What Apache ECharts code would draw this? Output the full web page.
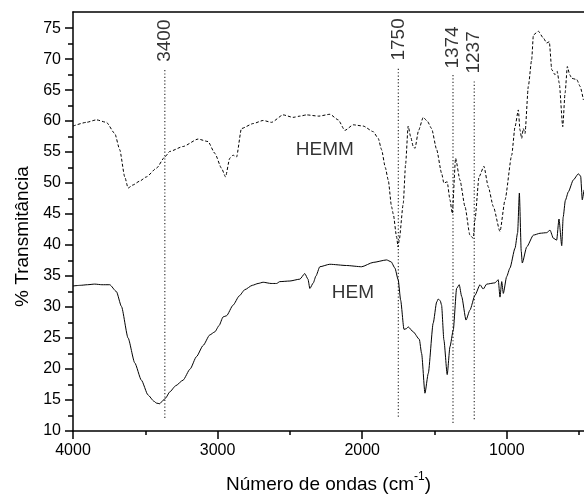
<!DOCTYPE html>
<html>
<head>
<meta charset="utf-8">
<script src="https://cdn.jsdelivr.net/npm/echarts@6/dist/echarts.min.js"></script>
<style>
html,body{margin:0;padding:0;background:#fff;}
#chart{width:584px;height:499px;}
</style>
</head>
<body>
<div id="chart"></div>
<script>
// ---- Data ----
const hemWavenumber = [4000,3950,3900,3850,3800,3746,3700,3665,3619,3573,3527,3481,3440,3423,3400,3388,3360,3331,3290,3239,3190,3146,3100,3054,3019,2990,2962,2938,2893,2850,2812,2760,2720,2685,2630,2592,2570,2500,2431,2397,2375,2362,2338,2320,2293,2224,2108,2004,1924,1831,1800,1774,1751,1734,1711,1695,1682,1647,1605,1589,1566,1543,1509,1485,1474,1460,1451,1435,1412,1393,1370,1347,1329,1312,1282,1255,1220,1185,1163,1139,1082,1059,1047,1035,1024,1001,978,943,925,913,900,893,862,816,770,724,701,678,655,639,620,610,595,574,540,505,489,478,466];
const hemTransmittance = [33.4,33.5,33.6,33.7,33.6,33.6,32.5,30.1,25.0,21.0,18.2,15.8,14.8,14.5,14.4,14.7,15.3,16.3,17.3,18.2,20.0,22.0,23.8,25.5,26.0,27.0,28.4,28.6,30.3,31.8,32.8,33.5,33.8,34.0,33.8,33.8,34.1,34.2,34.5,35.4,34.5,33.0,33.9,35.0,36.5,36.9,36.7,36.5,37.2,37.6,37.3,36.3,34.4,31.1,26.4,26.5,26.8,26.0,24.8,22.5,16.1,19.3,27.4,30.8,31.3,31.0,30.3,24.7,19.1,23.6,26.3,33.0,33.6,31.7,27.9,29.5,31.9,33.6,32.9,33.7,33.9,34.4,31.6,34.1,32.2,34.9,36.3,39.5,42.0,48.4,39.0,37.1,39.7,41.6,41.9,42.0,42.4,41.1,40.8,44.2,39.9,44.5,47.2,48.6,50.5,51.5,51.1,47.3,48.9];

const hemmWavenumber = [4000,3907,3838,3769,3711,3677,3642,3619,3585,3540,3492,3423,3365,3331,3239,3135,3066,3019,2973,2945,2916,2893,2869,2835,2754,2685,2627,2547,2478,2431,2385,2300,2223,2166,2120,2062,1993,1924,1889,1866,1840,1820,1797,1785,1762,1752,1744,1716,1700,1682,1665,1647,1635,1610,1578,1550,1520,1485,1451,1435,1412,1393,1377,1354,1324,1289,1255,1232,1220,1192,1158,1128,1093,1047,1012,966,943,920,909,897,886,874,851,828,816,782,747,724,706,689,667,651,637,613,597,581,565,551,516,493,470];
const hemmTransmittance = [59.2,59.8,60.2,59.8,58.0,55.4,51.0,49.2,49.7,50.3,51.0,52.4,54.2,55.1,55.9,57.1,56.7,54.8,52.4,51.0,54.0,54.5,54.2,58.8,59.6,60.1,59.8,61.0,60.6,60.8,61.0,60.8,61.1,60.2,58.5,59.4,59.2,58.3,57.2,55.4,52.5,50.5,46.2,45.0,41.3,39.7,40.8,46.7,53.0,59.2,57.5,55.9,55.6,58.5,60.6,60.0,58.8,55.4,51.6,50.0,50.2,47.3,45.1,54.0,50.5,46.2,41.6,41.1,44.1,51.0,52.7,49.4,46.2,42.2,47.3,54.5,59.1,61.8,58.6,57.2,58.8,58.0,65.6,69.9,73.9,74.5,73.4,72.6,72.8,68.3,67.5,68.0,66.1,59.1,64.5,68.8,67.5,66.9,66.7,65.6,63.4];

const markWavenumber = [3365, 1750, 1372, 1225];
const markLabels = ['3400', '1750', '1374', '1237'];
const markBottom = [12.1, 12.3, 11.3, 11.9];
const markTop = [68.6, 68.8, 67.5, 66.7];

const seriesNames = ['HEMM', 'HEM'];
const seriesNameX = [2459, 2210];
const seriesNameY = [55.4, 32.3];

const xMajorTicks = [1000, 2000, 3000, 4000];
const xMinorTicks = [500, 1500, 2500, 3500];
const yMajorTicks = [10, 15, 20, 25, 30, 35, 40, 45, 50, 55, 60, 65, 70, 75];
const yMinorTicks = [12.5, 17.5, 22.5, 27.5, 32.5, 37.5, 42.5, 47.5, 52.5, 57.5, 62.5, 67.5, 72.5];

// ---- Chart ----
const FONT = "'Liberation Sans', Arial, sans-serif";
const chart = echarts.init(document.getElementById('chart'), null, {renderer: 'canvas'});

const zip = (a, b) => a.map((v, i) => [v, b[i]]);

const series = [
  {
    type: 'line', name: 'HEM', data: zip(hemWavenumber, hemTransmittance),
    showSymbol: false, symbol: 'none', smooth: 0.2, smoothMonotone: 'x',
    lineStyle: {color: '#000', width: 1}, silent: true, z: 3
  },
  {
    type: 'line', name: 'HEMM', data: zip(hemmWavenumber, hemmTransmittance),
    showSymbol: false, symbol: 'none', smooth: 0.2, smoothMonotone: 'x',
    lineStyle: {color: '#000', width: 1, type: [3, 2]}, silent: true, z: 3
  }
];

markWavenumber.forEach((w, i) => {
  series.push({
    type: 'line', data: [[w, markBottom[i]], [w, markTop[i]]],
    showSymbol: false, symbol: 'none', silent: true,
    lineStyle: {color: '#333', width: 1.2, type: [1.2, 2.2]}, z: 2
  });
});

series.push({
  type: 'scatter', symbolSize: 0, silent: true,
  data: markWavenumber.map((w, i) => [w, markTop[i]]),
  label: {
    show: true, position: 'top', distance: 6, rotate: 90,
    align: 'left', verticalAlign: 'middle',
    formatter: p => markLabels[p.dataIndex],
    fontFamily: FONT, fontSize: 19, color: '#000'
  }
});

series.push({
  type: 'scatter', symbolSize: 0, silent: true,
  data: seriesNameX.map((w, i) => [w, seriesNameY[i]]),
  label: {
    show: true, position: 'right', distance: 0,
    align: 'left', verticalAlign: 'middle',
    formatter: p => seriesNames[p.dataIndex],
    fontFamily: FONT, fontSize: 19, color: '#000'
  }
});

const option = {
  backgroundColor: '#fff',
  animation: false,
  grid: {left: 73, right: 0, top: 12, bottom: 68, containLabel: false},
  xAxis: [
    {
      type: 'value', inverse: true, min: 466, max: 4000, position: 'bottom',
      axisLine: {show: true, onZero: false, lineStyle: {color: '#000', width: 1.5}},
      axisTick: {show: true, customValues: xMajorTicks, length: 8, lineStyle: {color: '#000', width: 1.5}},
      axisLabel: {show: true, customValues: xMajorTicks, formatter: v => String(v), margin: 12, fontFamily: FONT, fontSize: 16, color: '#000', showMinLabel: true, showMaxLabel: true},
      splitLine: {show: false},
      name: '{n|Número de ondas (cm}{sup|-1}{n|)}',
      nameLocation: 'middle', nameGap: 40,
      nameTextStyle: {
        fontFamily: FONT, fontSize: 19, color: '#000',
        rich: {
          n: {fontFamily: FONT, fontSize: 19, color: '#000', lineHeight: 23, verticalAlign: 'bottom'},
          sup: {fontFamily: FONT, fontSize: 12, color: '#000', lineHeight: 12, verticalAlign: 'top'}
        }
      }
    },
    {
      type: 'value', inverse: true, min: 466, max: 4000, position: 'bottom',
      axisLine: {show: false, onZero: false},
      axisTick: {show: true, customValues: xMinorTicks, length: 4, lineStyle: {color: '#000', width: 1.5}},
      axisLabel: {show: false},
      splitLine: {show: false}
    },
    {
      type: 'value', inverse: true, min: 466, max: 4000, position: 'top',
      axisLine: {show: true, onZero: false, lineStyle: {color: '#000', width: 1.5}},
      axisTick: {show: false}, axisLabel: {show: false}, splitLine: {show: false}
    }
  ],
  yAxis: [
    {
      type: 'value', min: 10, max: 77.6, position: 'left',
      axisLine: {show: true, onZero: false, lineStyle: {color: '#000', width: 1.5}},
      axisTick: {show: true, customValues: yMajorTicks, length: 8, lineStyle: {color: '#000', width: 1.5}},
      axisLabel: {show: true, customValues: yMajorTicks, margin: 12, fontFamily: FONT, fontSize: 16, color: '#000'},
      splitLine: {show: false},
      name: '% Transmitância', nameLocation: 'middle', nameGap: 41, nameRotate: 90,
      nameTextStyle: {fontFamily: FONT, fontSize: 19, color: '#000', padding: [0, 30, 0, 0]}
    },
    {
      type: 'value', min: 10, max: 77.6, position: 'left',
      axisLine: {show: false, onZero: false},
      axisTick: {show: true, customValues: yMinorTicks, length: 5, lineStyle: {color: '#000', width: 1.5}},
      axisLabel: {show: false}, splitLine: {show: false}
    }
  ],
  series: series
};
chart.setOption(option);
</script>
</body>
</html>
